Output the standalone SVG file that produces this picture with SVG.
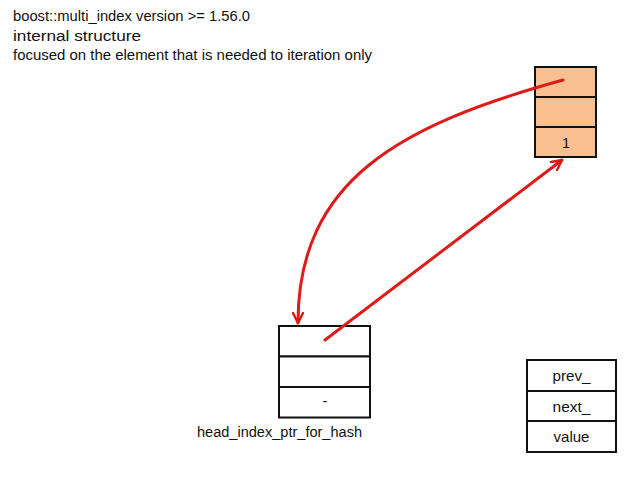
<svg xmlns="http://www.w3.org/2000/svg" width="640" height="480" viewBox="0 0 640 480">
<style>
text{font-family:"Liberation Sans",Arial,sans-serif;fill:#111}
.t{font-size:15.5px}
.c{font-size:14.5px;text-anchor:middle}
.cell{stroke:#111;stroke-width:2}
.w{fill:#fff}
.o{fill:#fac090}
.arr{fill:none;stroke:#dd1c1a;stroke-width:3;stroke-linecap:round}
</style>
<defs>
<marker id="ah" viewBox="0 0 12 12" refX="11" refY="6" markerWidth="12" markerHeight="12" markerUnits="userSpaceOnUse" orient="auto">
<path d="M1,1 L11,6 L1,11" fill="none" stroke="#dd1c1a" stroke-width="2.5" stroke-linecap="round" stroke-linejoin="round"/>
</marker>
</defs>
<rect width="640" height="480" fill="#fff"/>
<g id="title">
<text class="t" x="13" y="21" textLength="237" lengthAdjust="spacingAndGlyphs">boost::multi_index version &gt;= 1.56.0</text>
<text class="t" x="13" y="41" textLength="128" lengthAdjust="spacingAndGlyphs">internal structure</text>
<text class="t" x="13" y="60" textLength="359" lengthAdjust="spacingAndGlyphs">focused on the element that is needed to iteration only</text>
</g>
<g id="node1">
<rect class="cell o" x="535" y="67" width="61" height="30"/>
<rect class="cell o" x="535" y="97" width="61" height="30"/>
<rect class="cell o" x="535" y="127" width="61" height="30"/>
<text class="c" x="566" y="148">1</text>
</g>
<g id="head">
<rect class="cell w" x="279" y="326" width="91" height="30.5"/>
<rect class="cell w" x="279" y="356.5" width="91" height="30.5"/>
<rect class="cell w" x="279" y="387" width="91" height="30.5"/>
<text class="c" x="325" y="406">-</text>
<text class="t" x="197" y="437" textLength="165" lengthAdjust="spacingAndGlyphs">head_index_ptr_for_hash</text>
</g>
<g id="legend">
<rect class="cell w" x="527" y="360" width="89" height="31"/>
<rect class="cell w" x="527" y="391" width="89" height="30"/>
<rect class="cell w" x="527" y="421" width="89" height="31"/>
<text class="c" x="571.5" y="381" textLength="38" lengthAdjust="spacingAndGlyphs">prev_</text>
<text class="c" x="571.5" y="412" textLength="38" lengthAdjust="spacingAndGlyphs">next_</text>
<text class="c" x="571.5" y="442" textLength="36" lengthAdjust="spacingAndGlyphs">value</text>
</g>
<g id="connectors">
<path class="arr" d="M563,80 C400,125 298,180 298,323" marker-end="url(#ah)"/>
<path class="arr" d="M325,340 L562,160" marker-end="url(#ah)"/>
</g>
</svg>
